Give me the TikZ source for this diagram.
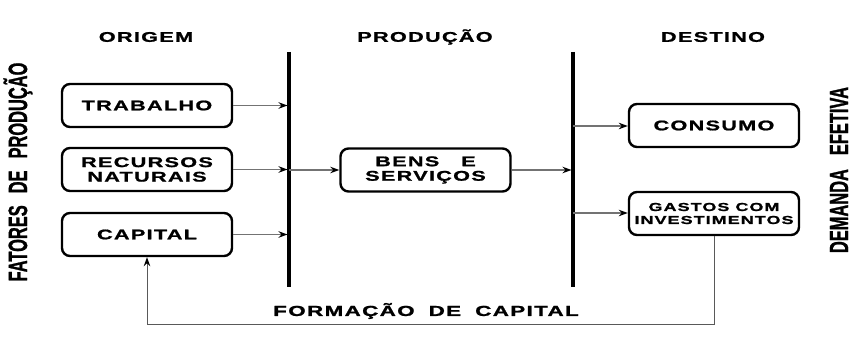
\documentclass[tikz,border=0pt]{standalone}
\usepackage{fontspec}
\setmainfont{Liberation Sans}
\newfontfamily\widefont[FakeStretch=1.55,LetterSpace=9,FakeBold=1.2]{Liberation Sans Bold}
\newfontfamily\narrowfont[FakeStretch=0.62,FakeBold=0.9]{Liberation Sans Bold}
\usetikzlibrary{arrows.meta}
\begin{document}
\begin{tikzpicture}[x=1pt,y=-1pt,
  box/.style={draw=black,line width=2.4pt,rounded corners=8pt,minimum width=170pt,minimum height=43pt,
    align=center,inner sep=0pt,font=\widefont\fontsize{14}{14.5}\selectfont},
  head/.style={font=\widefont\fontsize{14}{16}\selectfont,inner sep=0pt},
  side/.style={font=\narrowfont\fontsize{26.5}{28}\selectfont,inner sep=0pt,rotate=90},
  bar/.style={line width=3.5pt,black},
  arr/.style={draw=black!55,line width=1.2pt,-{Stealth[length=9pt,width=6.5pt,color=black]}},
  fb/.style={draw=black!65,line width=1pt,-{Stealth[length=9pt,width=6.5pt,color=black]}}]
\useasboundingbox (0,0) rectangle (860,337);
% headers
\node[head] (horig) at (146,37) {ORIGEM};
\node[head] (hprod) at (425,37) {PRODUÇÃO};
\node[head] (hdest) at (713,37) {DESTINO};
% side texts
\node[side] (fat) at (18,172) {FATORES\hspace{12pt}DE\hspace{12pt}PRODUÇÃO};
\node[side] (dem) at (839,170) {DEMANDA\hspace{14pt}EFETIVA};
% bars
\coordinate (b1t) at (289,52); \coordinate (b1b) at (289,287);
\coordinate (b2t) at (573,52); \coordinate (b2b) at (573,287);
\draw[bar] (b1t) -- (b1b);
\draw[bar] (b2t) -- (b2b);
% boxes
\node[box] (trab) at (147,105.5) {TRABALHO};
\node[box] (rec) at (147,169.5) {RECURSOS\\NATURAIS};
\node[box] (cap) at (147,234.5) {CAPITAL};
\node[box] (bens) at (425.5,170) {BENS\hspace{22pt}E\\SERVIÇOS};
\node[box] (cons) at (714,125.5) {CONSUMO};
\node[box,font=\widefont\fontsize{11.6}{13}\selectfont] (gast) at (714,213.5) {GASTOS COM\\INVESTIMENTOS};
% arrows
\draw[arr,shorten >=1.5pt] (trab.east) -- (trab.east -| b1t);
\draw[arr,shorten >=1.5pt] (rec.east) -- (rec.east -| b1t);
\draw[arr,shorten >=1.5pt] (cap.east) -- (cap.east -| b1t);
\draw[arr] (bens.west -| b1t) -- (bens.west);
\draw[arr,shorten >=1.5pt] (bens.east) -- (bens.east -| b2t);
\coordinate (c2) at (573,126);
\coordinate (g2) at (573,213);
\draw[arr] (c2) -- (c2 -| cons.west);
\draw[arr] (g2) -- (g2 -| gast.west);
% feedback
\coordinate (fbc) at (714,324);
\draw[fb] (gast.south) -- (fbc) -| (cap.south);
\node[head,font=\widefont\fontsize{14.5}{16}\selectfont] (form) at (426,311) {FORMAÇÃO\hspace{14pt}DE\hspace{14pt}CAPITAL};
\end{tikzpicture}
\end{document}
